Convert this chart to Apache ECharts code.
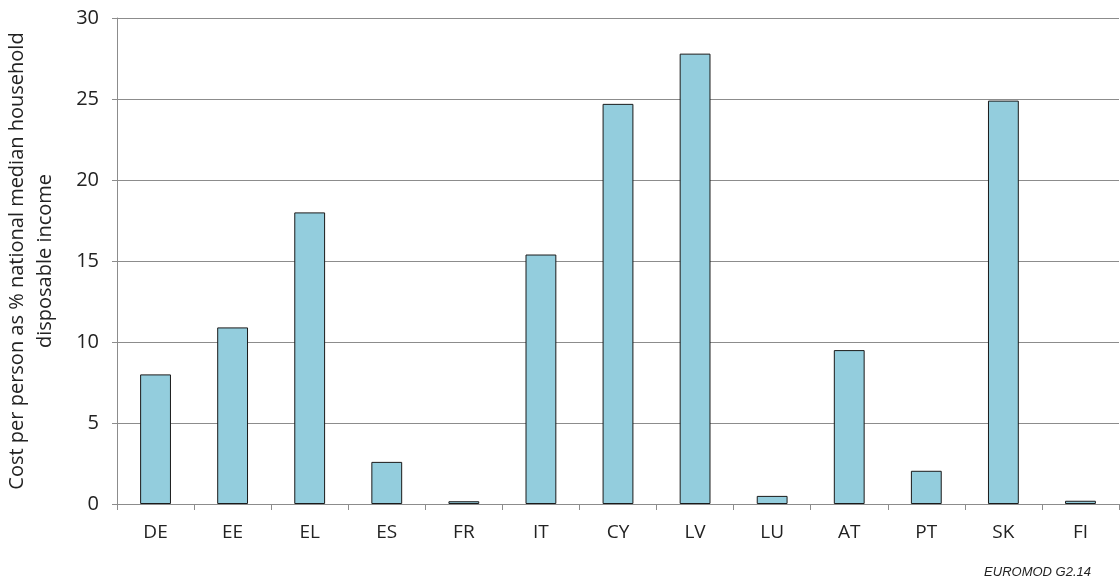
<!DOCTYPE html>
<html>
<head>
<meta charset="utf-8">
<script src="https://cdn.jsdelivr.net/npm/echarts@6/dist/echarts.min.js"></script>
<style>
    html, body { margin: 0; padding: 0; background: #fff; }
    #chart { width: 1120px; height: 584px; }
</style>
</head>
<body>
<div id="chart"></div>
<script>
// countries on the x axis
var countries = ['DE', 'EE', 'EL', 'ES', 'FR', 'IT', 'CY', 'LV', 'LU', 'AT', 'PT', 'SK', 'FI'];
// cost per person as % of national median household disposable income
var costShare = [8.0, 10.9, 18.0, 2.6, 0.17, 15.4, 24.7, 27.8, 0.5, 9.5, 2.05, 24.9, 0.2];
var yTicks = [0, 5, 10, 15, 20, 25, 30];

var myChart = echarts.init(document.getElementById('chart'));

var option = {
    animation: false,
    textStyle: { fontFamily: 'Open Sans' },
    title: {
        text: 'EUROMOD G2.14',
        right: 24,
        bottom: 0,
        textStyle: {
            fontFamily: 'Liberation Sans',
            fontSize: 13,
            fontStyle: 'italic',
            fontWeight: 'normal',
            color: '#222'
        }
    },
    grid: {
        left: 117,
        right: 1,
        top: 18,
        bottom: 80,
        outerBoundsMode: 'none',
        containLabel: false
    },
    xAxis: {
        type: 'category',
        data: countries,
        axisLine: { lineStyle: { color: '#8c8c8c', width: 1 } },
        axisTick: { show: true, length: 6, lineStyle: { color: '#8c8c8c' } },
        axisLabel: { color: '#222', fontSize: 19, margin: 19 }
    },
    yAxis: {
        type: 'value',
        min: yTicks[0],
        max: yTicks[yTicks.length - 1],
        interval: 5,
        name: 'Cost per person as % national median household\ndisposable income',
        nameLocation: 'middle',
        nameGap: 58,
        nameTextStyle: { color: '#222', fontSize: 20, lineHeight: 28 },
        axisLine: { show: true, lineStyle: { color: '#8c8c8c', width: 1 } },
        axisTick: { show: true, length: 5, lineStyle: { color: '#8c8c8c' } },
        axisLabel: { color: '#222', fontSize: 20, margin: 18 },
        splitLine: { lineStyle: { color: '#8c8c8c', width: 1 } }
    },
    series: [
        {
            type: 'bar',
            data: costShare,
            barWidth: '40%',
            itemStyle: {
                color: '#93cddd',
                borderColor: '#1a1a1a',
                borderWidth: 1
            }
        }
    ]
};

myChart.setOption(option);
</script>
</body>
</html>
